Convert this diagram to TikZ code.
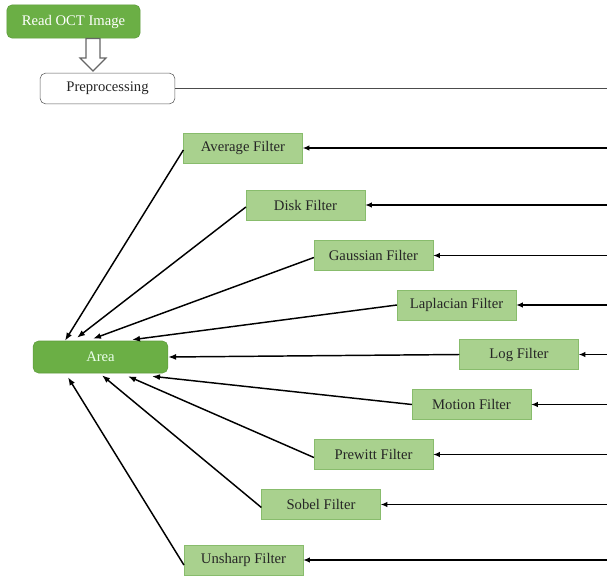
\documentclass[tikz,border=0pt]{standalone}
\usepackage{fontspec}
\setmainfont{Liberation Serif}
\usetikzlibrary{arrows.meta,calc}

\definecolor{areagreen}{HTML}{6BAF45}
\definecolor{areaedge}{HTML}{5E9C3C}
\definecolor{filtgreen}{HTML}{A9D18E}
\definecolor{filtedge}{HTML}{88BC6C}

\tikzset{
  startbox/.style={draw=areaedge, fill=areagreen, rounded corners=4pt, text=white,
    minimum width=100pt, minimum height=25pt, inner sep=1pt, font=\fontsize{11}{13}\selectfont},
  prebox/.style={draw=black!65, fill=white, rounded corners=4pt, text=black!85,
    minimum width=101pt, minimum height=23pt, inner sep=1pt, font=\fontsize{11}{13}\selectfont},
  filterbox/.style={draw=filtedge, fill=filtgreen, text=black!85,
    minimum width=89pt, minimum height=22.5pt, inner sep=1pt, font=\fontsize{11}{13}\selectfont},
  feed/.style={-{Latex[length=5pt,width=4pt]}, line width=1.2pt},
  toarea/.style={-{Latex[length=6pt,width=4.5pt]}, line width=1.1pt},
}

\begin{document}
\begin{tikzpicture}[x=0.75pt,y=-0.75pt]
  \useasboundingbox (0,0) rectangle (607,575);

  % top part
  \node[startbox] (read) at (73.5,21.5) {Read OCT Image};
  \node[prebox] (pre) at (107.5,88.5) {Preprocessing};
  \draw[draw=black!60, fill=white, line width=0.8pt]
    (86,38.5) -- (100,38.5) -- (100,58) -- (106,58) -- (93,71) -- (80,58) -- (86,58) -- cycle;
  \coordinate (preend) at (607,88.5);
  \draw[line width=1.4pt, black!70] (pre.east) -- (preend);

  % filters
  \node[filterbox] (avg) at (243,148) {Average Filter};
  \node[filterbox] (disk) at (305.5,205) {Disk Filter};
  \node[filterbox] (gauss) at (373.5,255.5) {Gaussian Filter};
  \node[filterbox] (lapl) at (456.5,305) {Laplacian Filter};
  \node[filterbox] (logf) at (519,354.5) {Log Filter};
  \node[filterbox] (motion) at (471.5,404.5) {Motion Filter};
  \node[filterbox] (prewitt) at (373.5,454.5) {Prewitt Filter};
  \node[filterbox] (sobel) at (321,504.5) {Sobel Filter};
  \node[filterbox] (unsharp) at (243.5,560) {Unsharp Filter};

  \node[startbox, minimum width=101pt, minimum height=24pt, text=green!8] (area) at (100.5,357) {Area};

  % feeds from the right edge
  \coordinate (in1) at (607,148);
  \coordinate (in2) at (607,205);
  \coordinate (in3) at (607,255.5);
  \coordinate (in4) at (607,305);
  \coordinate (in5) at (607,354.5);
  \coordinate (in6) at (607,404.5);
  \coordinate (in7) at (607,454.5);
  \coordinate (in8) at (607,504.5);
  \coordinate (in9) at (607,560);
  \draw[feed] (in1) -- (avg.east);
  \draw[feed] (in2) -- (disk.east);
  \draw[feed] (in3) -- (gauss.east);
  \draw[feed] (in4) -- (lapl.east);
  \draw[feed] (in5) -- (logf.east);
  \draw[feed] (in6) -- (motion.east);
  \draw[feed] (in7) -- (prewitt.east);
  \draw[feed] (in8) -- (sobel.east);
  \draw[feed] (in9) -- (unsharp.east);

  % filters into area
  \draw[toarea] ($(avg.west)+(0,2)$) -- ($(area.north)+(-35.5,0)$);
  \draw[toarea] ($(disk.west)+(0,2)$) -- ($(area.north)+(-23.5,-3)$);
  \draw[toarea] ($(gauss.west)+(0,2)$) -- ($(area.north)+(-7.5,-2)$);
  \draw[toarea] (lapl.west) -- ($(area.north)+(31.5,-1)$);
  \draw[toarea] (logf.west) -- (area.east);
  \draw[toarea] (motion.west) -- ($(area.south)+(51.5,3)$);
  \draw[toarea] ($(prewitt.west)+(0,3)$) -- ($(area.south)+(27.5,3)$);
  \draw[toarea] ($(sobel.west)+(0,3)$) -- ($(area.south)+(1.5,2)$);
  \draw[toarea] ($(unsharp.west)+(0,5)$) -- ($(area.south)+(-32.5,4)$);
\end{tikzpicture}
\end{document}
